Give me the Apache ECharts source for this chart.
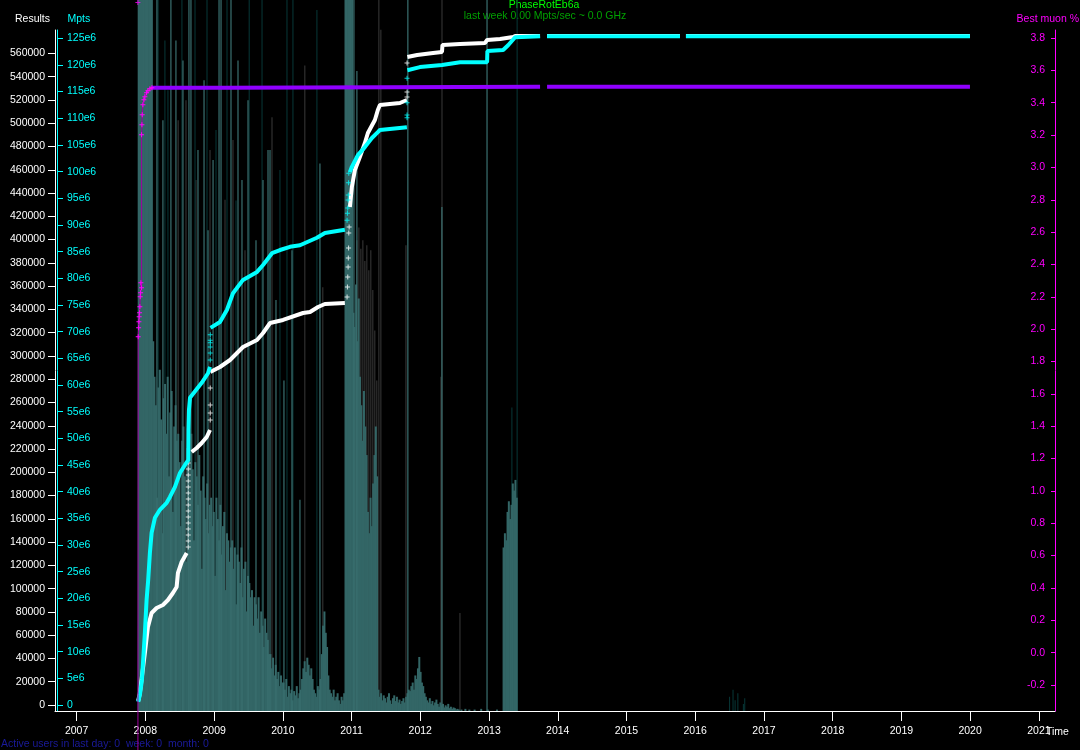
<!DOCTYPE html>
<html><head><meta charset="utf-8">
<script src="https://cdn.jsdelivr.net/npm/echarts@6/dist/echarts.min.js"></script>
<style>html,body{margin:0;padding:0;background:#000;}#c{width:1080px;height:750px;}</style>
</head><body><div id="c"></div>
<script>
// ---------- axis ranges / ticks ----------
const axisStartYear = 2006.6855, axisEndYear = 2021.2335;
const yearTicks = [2007,2008,2009,2010,2011,2012,2013,2014,2015,2016,2017,2018,2019,2020,2021];
const resultsMax = 580145, mptsMax = 126.55;
const resultsTicks = []; for (let v = 0; v <= 560000; v += 20000) resultsTicks.push(v);
const mptsTicks = []; for (let v = 0; v <= 125; v += 5) mptsTicks.push(v);
const muonTicks = []; for (let i = 0; i <= 20; i++) muonTicks.push(Math.round((-0.2 + i * 0.2) * 10) / 10);

// ---------- cumulative results (white) ----------
const whiteYears = [2007.897,2007.921,2007.994,2008.038,2008.092,2008.164,2008.256,2008.329,2008.401,2008.455,2008.474,2008.528,2008.601,null,2008.674,2008.746,2008.819,2008.892,2008.94,null,2008.944,2009.085,2009.231,2009.42,2009.624,2009.712,2009.814,2010.003,2010.294,2010.396,2010.512,2010.612,2010.903,null,2010.976,2011.005,2011.049,2011.121,2011.194,2011.238,2011.34,2011.383,2011.413,2011.704,2011.806,null,2011.813,2011.955,2012.187,2012.316,2012.323,2012.578,2012.942,2012.971,2013.16,2013.349,2013.379,2013.742,null,2013.844,2015.779,null,2015.866,2019.998];
const whiteVals = [3440,10310,44690,67040,79070,83370,85950,90250,96260,101420,113450,122910,130640,null,217450,220890,225190,230350,236360,null,286210,290510,296530,307700,313720,319730,328330,330910,336920,337780,342080,344660,345520,null,428030,445220,459830,471010,483040,491630,502810,511400,515700,517420,519990,null,556960,558680,560390,561250,567270,568130,568990,571570,572430,574150,575010,575010,null,575010,575010,null,575010,575010];
const whiteDotYears = [2008.624,2008.624,2008.624,2008.624,2008.624,2008.624,2008.624,2008.624,2008.624,2008.624,2008.624,2008.624,2008.624,2008.624,2008.624,2008.943,2008.943,2008.943,2008.943,2010.935,2010.94,2010.945,2010.95,2010.953,2010.957,2010.96,2010.965,2011.808,2011.808,2011.808];
const whiteDotVals = [135800,140960,146120,151270,156430,161590,166740,171900,177060,182210,187370,192530,197690,202840,208000,244960,250970,257850,272460,350620,359220,367810,376410,384200,392790,405680,410840,522570,526870,551800];

// ---------- cumulative Mpts (cyan), millions ----------
const cyanYears = [2007.897,2007.921,2007.951,2007.994,2008.019,2008.042,2008.067,2008.092,2008.14,2008.212,2008.31,2008.358,2008.431,2008.503,2008.576,2008.624,2008.627,2008.634,2008.649,2008.819,2008.911,2008.94,null,2008.947,2009.085,2009.187,2009.274,2009.42,2009.624,2009.712,2009.842,2009.958,2010.104,2010.249,2010.496,2010.612,2010.903,null,2010.976,2011.005,2011.092,2011.194,2011.296,2011.383,2011.413,2011.806,null,2011.813,2011.995,2012.316,2012.578,2012.971,2012.975,2013.204,2013.277,2013.379,2013.742,null,2013.844,2015.779,null,2015.866,2019.998];
const cyanVals = [0.6,1.9,4.7,13.5,19.7,23.4,28.5,32.3,35.1,36.6,37.9,39.0,40.9,43.5,45.0,45.9,51.6,55.3,57.6,60.4,62.2,63.4,null,70.7,71.8,74.1,77.2,79.7,81.2,82.5,84.7,85.3,85.9,86.2,87.6,88.5,89.1,null,99.9,100.9,103.1,104.6,106.3,107.4,107.8,108.3,null,119.0,119.6,120.0,120.5,120.5,122.6,122.8,123.7,125.2,125.4,null,125.4,125.4,null,125.4,125.4];
const cyanDotYears = [2008.943,2008.943,2008.943,2008.943,2008.943,2008.943,2010.935,2010.94,2010.945,2010.95,2010.953,2010.957,2010.96,2011.808,2011.808,2011.808,2011.808];
const cyanDotVals = [64.7,66.0,67.1,67.9,68.4,69.4,90.9,92.2,93.2,94.7,95.6,97.9,99.7,110.1,110.6,112.9,117.5];

// ---------- best muon % ----------
const muonEarlyYears = [2007.892,2007.897,2007.903,2007.907,2007.911,2007.917,2007.921,2007.926,2007.932,2007.936,2007.946,2007.946,2007.951,2007.955,2007.965,2007.98,2007.994,2008.019,2008.038,2008.067,2008.096];
const muonEarlyVals = [-1.0,1.953,2.009,2.045,2.076,2.101,2.138,2.2,2.225,2.287,2.256,3.202,3.264,3.326,3.387,3.418,3.437,3.462,3.474,3.486,3.493];
const muonYears = [2008.096,2009.187,2009.19,2013.742,null,2013.844,2019.998];
const muonVals = [3.493,3.493,3.499,3.499,null,3.499,3.499];
const muonOutlierYears = [2007.892];
const muonOutlierVals = [4.02];

// ---------- activity bars (weekly), arbitrary units 0..1000 ----------
const barStart = '2007-11-27';
const weeklyActivity = [
1000,1000,1000,1000,1000,1000,1000,1000,1000,1000,1000,
520,
470,430,300,455,480,410,250,440,460,390,470,330,420,450,280,400,430,380,
390,350,260,380,400,330,210,370,360,300,390,340,240,350,330,290,360,310,200,330,300,270,320,250,290,
300,260,280,190,300,270,240,290,220,260,280,170,250,240,210,230,
240,200,230,150,220,210,180,230,160,200,210,140,190,180,160,170,120,160,
150,130,160,110,140,120,90,130,110,100,80,
80,60,75,50,65,45,55,35,50,40,
40,30,45,20,35,25,30,15,28,22,35,18,25,
30,45,60,70,55,75,65,50,60,45,30,25,20,35,30,45,80,120,140,110,90,50,30,25,20,30,15,20,25,15,10,20,15,25,
1000,1000,1000,1000,1000,1000,
560,540,600,520,580,470,
430,380,450,400,360,
280,250,300,260,320,
360,400,330,
30,20,25,15,22,18,12,20,25,15,10,18,22,14,20,12,16,10,14,18,12,20,25,30,28,
35,40,30,50,45,60,76,55,40,35,25,20,
15,12,18,10,14,8,12,16,10,6,12,8,10,5,8,6,10,4,6,3,5,4,2,3,2,
0,2,0,0,3,0,0,2,0,0,0,2,0,0,0,0,3,0,0,0,0,2,0,0,0,0,0,0,2,0,0,0,0,
230,250,240,280,295,270,290,320,310,325,300];
const tealSpikeYears = [2008.169,2008.256,2008.372,2008.445,2008.547,2008.634,2008.663,2008.765,2008.853,2008.911,2008.984,2009.071,2009.1,2009.245,2009.347,2009.405,2009.493,2009.609,2009.711,2009.784,2009.813,2009.9,2010.016,2010.133,2010.249,2010.54,2011.035,2011.078,2011.82,2012.315,2012.97];
const tealSpikeVals = [1000,831,1000,943,915,1000,1000,789,887,676,775,1000,1000,1000,915,747,859,662,747,789,789,578,465,648,297,770,1000,900,1000,709,1000];
const graySpikeYears = [2008.477,2008.591,2008.736,2008.94,2009.158,2009.274,2009.449,2009.842,2010.32,2010.582,2010.933,2011.078,2011.107,2011.136,2011.165,2011.194,2011.223,2011.252,2011.281,2011.31,2011.339,2011.368,2011.398,2011.427,2011.792,2012.301,2012.316,2012.577];
const graySpikeVals = [831,859,747,789,719,803,648,835,908,596,887,662,680,650,662,633,655,620,648,592,535,465,1000,958,655,470,1000,138];
const darkSpikeYears = [2008.186,2008.285,2008.329,2008.532,2008.722,2008.896,2009.027,2009.187,2009.318,2009.51,2009.697,2009.958,2010.06,2010.147,2010.496,2013.332,2013.408,2016.50,2016.55,2016.58,2016.62,2016.70,2016.72];
const darkSpikeVals = [1000,943,873,1000,1000,1000,817,1000,718,1000,1000,761,1000,1000,986,427,1000,20,30,15,25,10,18];

// ---------- helpers ----------
function yr(d) { const y = Math.floor(d); const a = Date.UTC(y, 0, 1), b = Date.UTC(y + 1, 0, 1); return a + (d - y) * (b - a); }
function pairs(xs, vs) { return xs.map((x, i) => (x === null || vs[i] === null) ? null : [yr(x), vs[i]]); }
const t0 = Date.parse(barStart + 'T00:00:00Z');
const weeklyData = weeklyActivity.map((v, i) => [t0 + i * 7 * 86400000, v]);
const xMin = yr(axisStartYear), xMax = yr(axisEndYear);
const tickTs = yearTicks.map(y => Date.UTC(y, 0, 1));

const FONT = 'Liberation Sans';
const FS = 10.5;
const plus = 'path://M2,0H3V2H5V3H3V5H2V3H0V2H2Z';
const hiddenX = (g) => ({ gridIndex: g, type: 'value', min: xMin, max: xMax, show: false });

const chart = echarts.init(document.getElementById('c'), null, { renderer: 'canvas' });
chart.setOption({
  backgroundColor: '#000',
  animation: false,
  textStyle: { fontFamily: FONT, fontSize: FS },
  grid: [
    { left: 55, right: 25, top: 0, bottom: 39 },
    { left: 55, right: 25, top: 30, bottom: 45 },
    { left: 55, right: 25, top: 30, bottom: 39 },
    { left: 55, right: 25, top: 38, bottom: 65 }
  ],
  xAxis: [
    { gridIndex: 0, type: 'value', min: xMin, max: xMax,
      axisLine: { lineStyle: { color: '#fff', width: 1 } },
      axisTick: { length: 10, lineStyle: { color: '#fff' }, customValues: tickTs },
      axisLabel: { customValues: tickTs, color: '#fff', fontFamily: FONT, fontSize: FS, margin: 15,
                   formatter: v => String(new Date(v).getUTCFullYear()) },
      splitLine: { show: false } },
    hiddenX(0), hiddenX(0), hiddenX(0),
    hiddenX(1), hiddenX(2), hiddenX(3)
  ],
  yAxis: [
    { gridIndex: 0, type: 'value', min: 0, max: 1000, show: false },
    { gridIndex: 1, type: 'value', position: 'left', min: 0, max: resultsMax,
      axisLine: { show: false }, splitLine: { show: false },
      axisTick: { show: true, length: 7, lineStyle: { color: '#fff' }, customValues: resultsTicks },
      axisLabel: { customValues: resultsTicks, color: '#fff', margin: 10, fontFamily: FONT, fontSize: FS,
                   formatter: v => String(v) } },
    { gridIndex: 1, type: 'value', position: 'left', offset: -2, min: 0, max: mptsMax,
      axisLine: { show: false }, splitLine: { show: false },
      axisTick: { show: true, inside: true, length: 6, lineStyle: { color: '#00ffff' }, customValues: mptsTicks },
      axisLabel: { customValues: mptsTicks, inside: true, color: '#00ffff', margin: 10, fontFamily: FONT, fontSize: FS,
                   formatter: v => v === 0 ? '0' : v + 'e6' } },
    { gridIndex: 2, type: 'value', position: 'left', min: 0, max: 1,
      axisLine: { show: true, lineStyle: { color: '#fff' } }, axisTick: { show: false }, axisLabel: { show: false }, splitLine: { show: false } },
    { gridIndex: 2, type: 'value', position: 'left', offset: -2, min: 0, max: 1,
      axisLine: { show: true, lineStyle: { color: '#00ffff' } }, axisTick: { show: false }, axisLabel: { show: false }, splitLine: { show: false } },
    { gridIndex: 2, type: 'value', position: 'right', min: 0, max: 1,
      axisLine: { show: true, lineStyle: { color: '#ff00ff' } }, axisTick: { show: false }, axisLabel: { show: false }, splitLine: { show: false } },
    { gridIndex: 3, type: 'value', position: 'right', min: -0.2, max: 3.8,
      axisLine: { show: false }, splitLine: { show: false },
      axisTick: { show: true, inside: true, length: 4, lineStyle: { color: '#ff00ff' }, customValues: muonTicks },
      axisLabel: { customValues: muonTicks, inside: true, color: '#ff00ff', margin: 10, fontFamily: FONT, fontSize: FS,
                   formatter: v => Number(v).toFixed(1) } }
  ],
  series: [
    { name: 'gray', type: 'bar', xAxisIndex: 1, yAxisIndex: 0, barWidth: 1, z: 1,
      itemStyle: { color: '#3a3a3a' }, data: pairs(graySpikeYears, graySpikeVals) },
    { name: 'dark', type: 'bar', xAxisIndex: 2, yAxisIndex: 0, barWidth: 1, z: 1,
      itemStyle: { color: '#073838' }, data: pairs(darkSpikeYears, darkSpikeVals) },
    { name: 'activity', type: 'bar', xAxisIndex: 0, yAxisIndex: 0, barWidth: 2, z: 2,
      itemStyle: { color: '#336666' }, data: weeklyData },
    { name: 'spikes', type: 'bar', xAxisIndex: 3, yAxisIndex: 0, barWidth: 1.2, z: 2,
      itemStyle: { color: '#3a7070' }, data: pairs(tealSpikeYears, tealSpikeVals) },
    { name: 'Results', type: 'line', xAxisIndex: 4, yAxisIndex: 1, z: 5, symbol: 'none',
      lineStyle: { color: '#fff', width: 4 }, data: pairs(whiteYears, whiteVals) },
    { name: 'ResultsDots', type: 'scatter', xAxisIndex: 4, yAxisIndex: 1, z: 5, symbol: plus, symbolSize: 5,
      itemStyle: { color: '#fff' }, data: pairs(whiteDotYears, whiteDotVals) },
    { name: 'Mpts', type: 'line', xAxisIndex: 4, yAxisIndex: 2, z: 6, symbol: 'none',
      lineStyle: { color: '#00ffff', width: 4 }, data: pairs(cyanYears, cyanVals) },
    { name: 'MptsDots', type: 'scatter', xAxisIndex: 4, yAxisIndex: 2, z: 6, symbol: plus, symbolSize: 5,
      itemStyle: { color: '#00ffff' }, data: pairs(cyanDotYears, cyanDotVals) },
    { name: 'muonEarly', type: 'line', xAxisIndex: 6, yAxisIndex: 6, z: 7, clip: false,
      symbol: plus, symbolSize: 5, showAllSymbol: true,
      lineStyle: { color: '#a000a0', width: 1 }, itemStyle: { color: '#ff00ff' },
      data: pairs(muonEarlyYears, muonEarlyVals) },
    { name: 'muon', type: 'line', xAxisIndex: 6, yAxisIndex: 6, z: 7, symbol: 'none',
      lineStyle: { color: '#9000ff', width: 4 }, data: pairs(muonYears, muonVals) },
    { name: 'muonOut', type: 'scatter', xAxisIndex: 6, yAxisIndex: 6, z: 7, clip: false, symbol: plus, symbolSize: 5,
      itemStyle: { color: '#ff00ff' }, data: pairs(muonOutlierYears, muonOutlierVals) }
  ],
  graphic: [
    { type: 'text', x: 15, y: 19, style: { text: 'Results', fill: '#fff', font: FS + 'px "' + FONT + '"', align: 'left', verticalAlign: 'middle' } },
    { type: 'text', x: 67.5, y: 19, style: { text: 'Mpts', fill: '#00ffff', font: FS + 'px "' + FONT + '"', align: 'left', verticalAlign: 'middle' } },
    { type: 'text', x: 1079, y: 19, style: { text: 'Best muon %', fill: '#ff00ff', font: FS + 'px "' + FONT + '"', align: 'right', verticalAlign: 'middle' } },
    { type: 'text', x: 544, y: 5, style: { text: 'PhaseRotEb6a', fill: '#00ff00', font: FS + 'px "' + FONT + '"', align: 'center', verticalAlign: 'middle' } },
    { type: 'text', x: 545, y: 16, style: { text: 'last week 0.00 Mpts/sec ~ 0.0 GHz', fill: '#00a000', font: FS + 'px "' + FONT + '"', align: 'center', verticalAlign: 'middle' } },
    { type: 'text', x: 1046, y: 732, style: { text: 'Time', fill: '#fff', font: FS + 'px "' + FONT + '"', align: 'left', verticalAlign: 'middle' } },
    { type: 'text', x: 1, y: 744, style: { text: 'Active users in last day: 0  week: 0  month: 0', fill: '#1a1a9a', font: FS + 'px "' + FONT + '"', align: 'left', verticalAlign: 'middle' } }
  ]
});
</script>
</body></html>
